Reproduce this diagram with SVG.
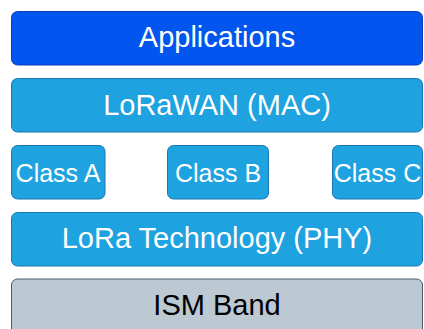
<svg xmlns="http://www.w3.org/2000/svg" width="424" height="329" viewBox="0 0 424 329">
<style>
.box{stroke-width:1}
.app{fill:#0355f0;stroke:#0a3fb8}
.blue{fill:#1ea2e0;stroke:#1876b0}
.ism{fill:#bcc8d2;stroke:#4a5c6e}
text{font-family:"Liberation Sans",Arial,sans-serif;text-anchor:middle;fill:#ffffff}
.big{font-size:29px}
.cls{font-size:25px}
.dark{fill:#000000}
</style>
<g id="applications"><rect class="box app" x="11.5" y="11.5" width="411" height="53.5" rx="6"/><text class="big" x="217" y="47">Applications</text></g>
<g id="lorawan"><rect class="box blue" x="11.5" y="78.5" width="411" height="53.5" rx="6"/><text class="big" x="217" y="115">LoRaWAN (MAC)</text></g>
<g id="classA"><rect class="box blue" x="11.5" y="145.5" width="93.5" height="53.5" rx="6"/><text class="cls" x="58" y="182">Class A</text></g>
<g id="classB"><rect class="box blue" x="167.5" y="145.5" width="101" height="53.5" rx="6"/><text class="cls" x="218" y="182">Class B</text></g>
<g id="classC"><rect class="box blue" x="332.5" y="145.5" width="90" height="53.5" rx="6"/><text class="cls" x="377.5" y="182">Class C</text></g>
<g id="lora"><rect class="box blue" x="11.5" y="212.5" width="411" height="53.5" rx="6"/><text class="big" x="217" y="248">LoRa Technology (PHY)</text></g>
<g id="ism"><rect class="box ism" x="11.5" y="279" width="411" height="56" rx="6"/><text class="big dark" x="217" y="315">ISM Band</text></g>
<g id="connectors"></g>
</svg>
